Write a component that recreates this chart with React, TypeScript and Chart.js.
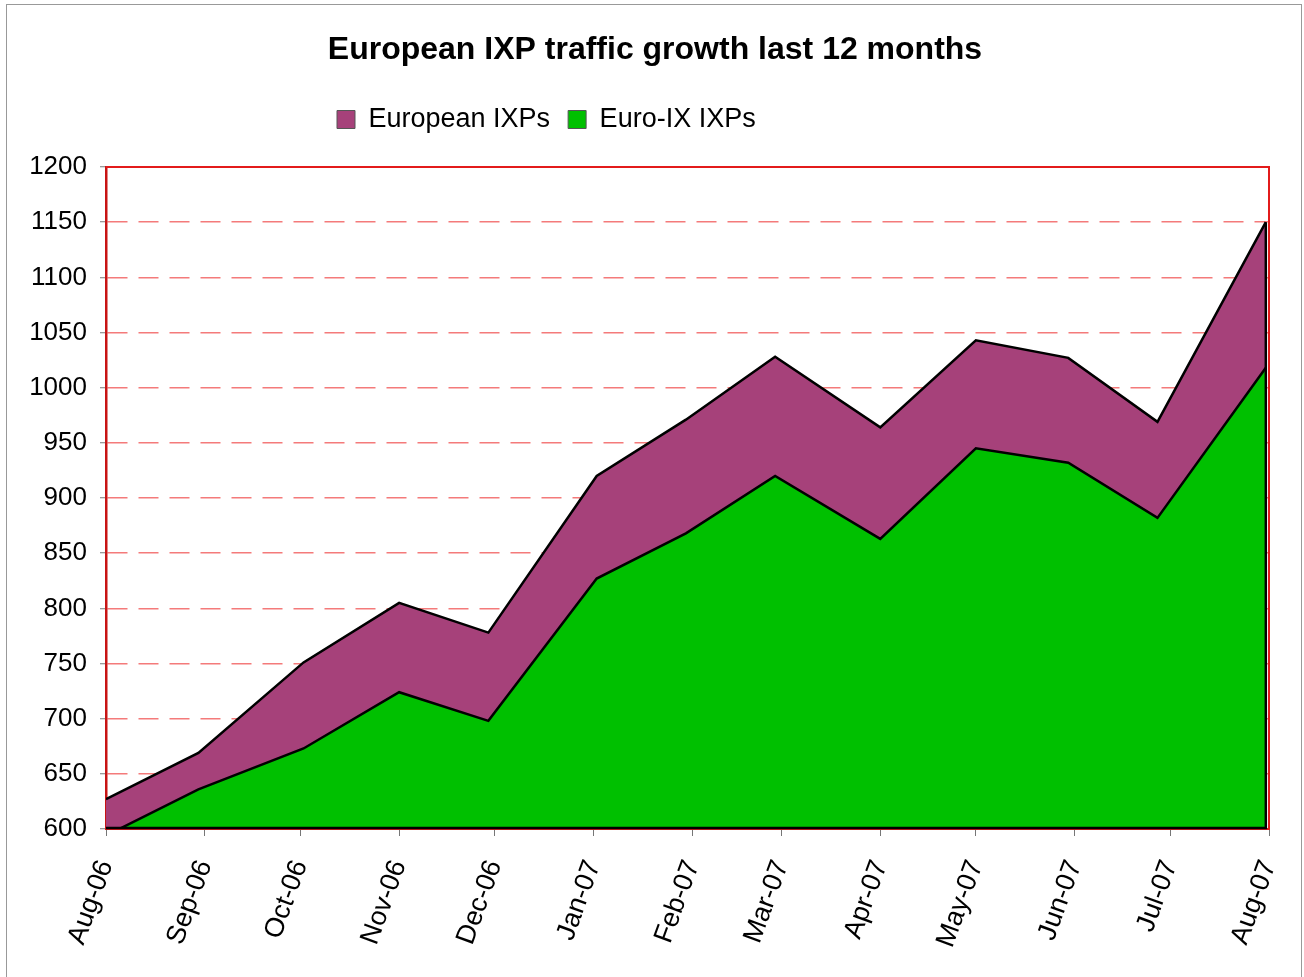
import React, { useEffect, useRef } from 'react';
import { Chart, registerables } from 'chart.js';

Chart.register(...registerables);

const CHART_TITLE = 'European IXP traffic growth last 12 months';
const SERIES_NAMES = ['European IXPs', 'Euro-IX IXPs'];
const POINT_DATES = [
  '2006-08-01', '2006-08-30', '2006-10-02', '2006-11-01', '2006-11-29', '2007-01-02',
  '2007-01-30', '2007-02-27', '2007-04-01', '2007-05-01', '2007-05-30', '2007-06-27', '2007-07-31',
];
const EUROPEAN_IXPS = [627, 669, 751, 805, 778, 920, 971, 1028, 964, 1043, 1027, 969, 1150];
const EURO_IX_IXPS = [594, 636, 673, 724, 698, 827, 868, 920, 863, 945, 932, 882, 1018];
const TICK_DATES = [
  '2006-08-01', '2006-09-01', '2006-10-01', '2006-11-01', '2006-12-01', '2007-01-01', '2007-02-01',
  '2007-03-01', '2007-04-01', '2007-05-01', '2007-06-01', '2007-07-01', '2007-08-01',
];
const TICK_LABELS = [
  'Aug-06', 'Sep-06', 'Oct-06', 'Nov-06', 'Dec-06', 'Jan-07', 'Feb-07',
  'Mar-07', 'Apr-07', 'May-07', 'Jun-07', 'Jul-07', 'Aug-07',
];
const Y_MIN = 600;
const Y_MAX = 1200;
const Y_STEP = 50;

const DAY_MS = 86400000;
const ORIGIN = Date.parse(TICK_DATES[0]);
const toDay = (s: string) => Math.round((Date.parse(s) - ORIGIN) / DAY_MS);

const FONT = "'Liberation Sans', Arial, Helvetica, sans-serif";
const PURPLE = '#A6417A';
const GREEN = '#00C000';
const RED = '#E31B1B';
const GRID_PINK = '#F47A7A';

const framePlugin = {
  id: 'framePlugin',
  beforeLayout(chart: any) {
    const lg = chart.legend;
    if (lg && !lg.__patched) {
      const orig = lg.fit.bind(lg);
      lg.fit = function () {
        orig();
        this.height += 24;
      };
      lg.__patched = true;
    }
  },
  afterLayout(chart: any) {
    const lg = chart.legend;
    if (lg) lg.left = 319;
    const t = chart.titleBlock;
    if (t) {
      t.left += 3;
      t.right += 3;
    }
  },
  afterDatasetsDraw(chart: any) {
    const { ctx, chartArea: a, scales } = chart;
    const xs = scales.x;
    const ys = scales.y;
    const n = POINT_DATES.length - 1;
    const lastX = xs.getPixelForValue(toDay(POINT_DATES[n]));
    const lastY = ys.getPixelForValue(EUROPEAN_IXPS[n]);
    ctx.save();
    ctx.strokeStyle = '#000';
    ctx.lineWidth = 2.5;
    ctx.lineJoin = 'miter';
    ctx.beginPath();
    ctx.moveTo(lastX, lastY);
    ctx.lineTo(lastX, a.bottom - 1);
    ctx.lineTo(a.left, a.bottom - 1);
    ctx.stroke();
    ctx.strokeStyle = RED;
    ctx.lineWidth = 2;
    ctx.beginPath();
    ctx.moveTo(a.left, a.top);
    ctx.lineTo(a.right, a.top);
    ctx.lineTo(a.right, a.bottom + 1);
    ctx.stroke();
    ctx.restore();
  },
};

export default function App() {
  const canvasRef = useRef<HTMLCanvasElement | null>(null);

  useEffect(() => {
    const canvas = canvasRef.current;
    if (!canvas) return;
    const days = POINT_DATES.map(toDay);
    const chart = new Chart(canvas, {
      type: 'line',
      data: {
        datasets: [
          {
            label: SERIES_NAMES[0],
            data: days.map((d, i) => ({ x: d, y: EUROPEAN_IXPS[i] })),
            borderColor: '#000',
            backgroundColor: PURPLE,
            borderWidth: 2.5,
            pointRadius: 0,
            tension: 0,
            fill: '+1',
          },
          {
            label: SERIES_NAMES[1],
            data: days.map((d, i) => ({ x: d, y: EURO_IX_IXPS[i] })),
            borderColor: '#000',
            backgroundColor: GREEN,
            borderWidth: 2.5,
            pointRadius: 0,
            tension: 0,
            fill: 'start',
          },
        ],
      },
      options: {
        animation: false,
        responsive: false,
        maintainAspectRatio: false,
        devicePixelRatio: 1,
        layout: { padding: 0 },
        events: [],
        plugins: {
          filler: { drawTime: 'beforeDatasetsDraw' },
          tooltip: { enabled: false },
          title: {
            display: true,
            text: CHART_TITLE,
            color: '#000',
            font: { family: FONT, size: 32, weight: 'bold' },
            padding: { top: 30.8, bottom: 18.8 },
          },
          legend: {
            display: true,
            position: 'top',
            align: 'start',
            labels: {
              boxWidth: 18,
              boxHeight: 18,
              padding: 18,
              color: '#000',
              font: { family: FONT, size: 27 },
              generateLabels: (c: any) =>
                (Chart as any).defaults.plugins.legend.labels
                  .generateLabels(c)
                  .map((l: any) => ({ ...l, lineWidth: 1, strokeStyle: '#555' })),
            },
          },
        },
        scales: {
          x: {
            type: 'linear',
            min: toDay(TICK_DATES[0]),
            max: toDay(TICK_DATES[TICK_DATES.length - 1]),
            afterBuildTicks: (s: any) => {
              s.ticks = TICK_DATES.map((d) => ({ value: toDay(d) }));
            },
            afterFit: (s: any) => {
              s.height = 148;
              s.paddingLeft = 0;
              s.paddingRight = 35;
            },
            ticks: {
              autoSkip: false,
              minRotation: 70,
              maxRotation: 70,
              color: '#000',
              padding: 20,
              font: { family: FONT, size: 27 },
              callback: (_v: any, i: number) => TICK_LABELS[i],
            },
            grid: {
              drawOnChartArea: false,
              drawTicks: true,
              tickLength: 7,
              tickColor: '#777',
              tickWidth: 1,
            },
            border: { color: RED, width: 2 },
          },
          y: {
            type: 'linear',
            min: Y_MIN,
            max: Y_MAX,
            afterFit: (s: any) => {
              s.width = 106;
              s.paddingTop = 167;
            },
            ticks: {
              stepSize: Y_STEP,
              color: '#000',
              padding: 13,
              font: { family: FONT, size: 26 },
              callback: (v: any) => String(v),
            },
            grid: {
              color: GRID_PINK,
              lineWidth: 1.5,
              tickLength: 6,
              tickColor: '#777',
              tickWidth: 1,
              tickBorderDash: [],
            },
            border: { color: '#C81414', width: 2.5, dash: [20, 11] },
          },
        },
      },
      plugins: [framePlugin],
    } as any);
    return () => chart.destroy();
  }, []);

  return (
    <div style={{ position: 'absolute', left: 0, top: 0, width: 1304, height: 977, overflow: 'hidden', background: '#fff' }}>
      <div
        style={{
          position: 'absolute',
          left: 6,
          top: 4,
          width: 1296,
          height: 990,
          border: '1.5px solid #999',
          boxSizing: 'border-box',
        }}
      />
      <canvas
        ref={canvasRef}
        width={1304}
        height={977}
        style={{ position: 'absolute', left: 0, top: 0, width: 1304, height: 977, display: 'block' }}
      />
    </div>
  );
}
